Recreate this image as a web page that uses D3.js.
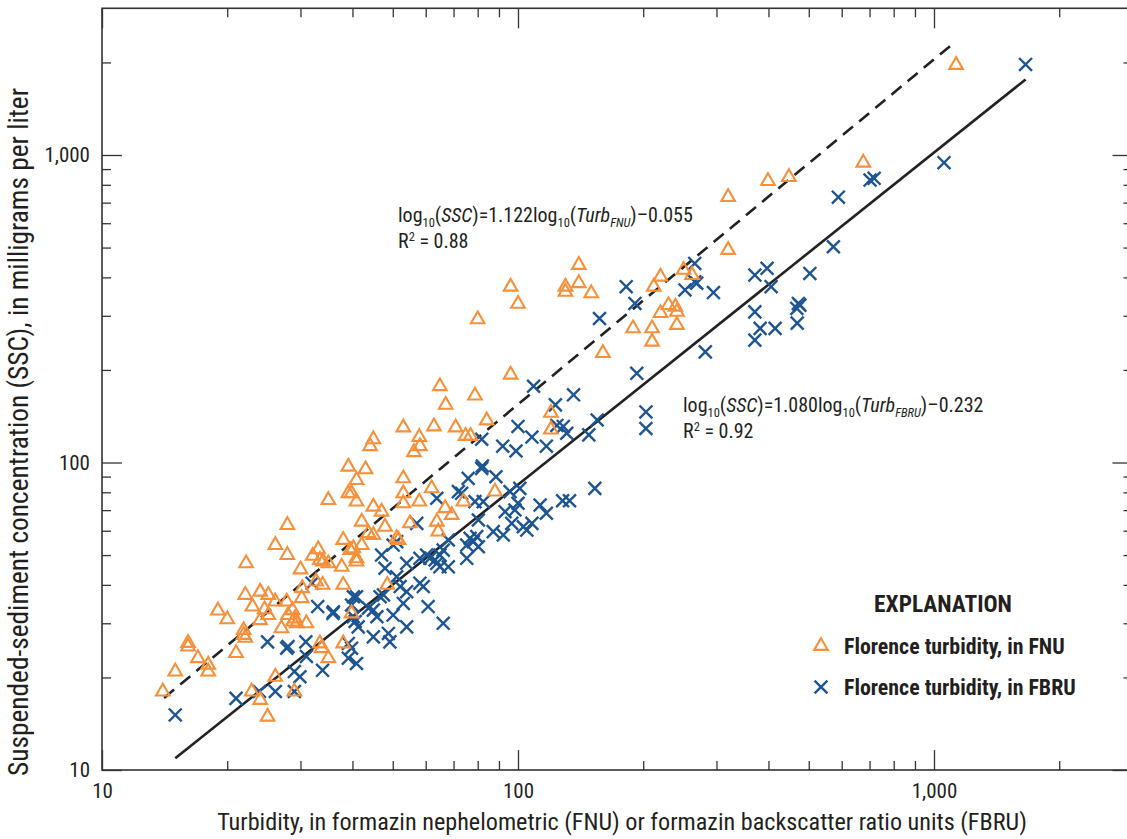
<!DOCTYPE html>
<html><head><meta charset="utf-8">
<script src="https://cdn.jsdelivr.net/npm/d3@7"></script>
<style>
body{margin:0;background:#fff}
svg{display:block}
text{font-family:"Liberation Sans Narrow","Arial Narrow","Roboto Condensed","Liberation Sans",sans-serif;fill:#231f20}
</style>
</head><body>
<svg id="chart" width="1127" height="839"></svg>
<script>
// ---- Data ----
const fnuTurb = [14.0,15.0,16.1,16.1,17.0,18.0,18.0,19.0,20.0,21.0,22.2,22.1,21.9,21.9,22.1,22.9,24.0,25.0,23.0,24.0,25.1,24.0,24.6,25.1,26.1,26.1,26.1,27.9,27.9,27.8,28.0,28.7,29.1,28.8,29.4,31.0,27.0,30.2,30.0,30.3,32.1,33.1,33.4,34.0,35.0,33.9,32.7,33.4,33.7,35.0,29.0,40.9,39.1,39.8,40.9,53.0,53.0,53.0,57.9,62.0,66.8,69.3,44.9,47.0,42.1,47.9,43.7,44.9,55.0,63.8,64.3,51.1,51.6,38.0,42.1,39.5,40.2,40.9,40.9,37.7,38.0,48.5,39.8,38.0,73.9,88.0,96,100,80,130,130,96,64.9,78.8,67.0,84.1,53.0,62.8,70.8,44.9,44.1,57.9,58.1,56.2,74.8,76.9,39.1,43.0,120,120,35.0,320,140,140,150,220,212,250,262,230,239,241,220,189,210,210,241,160,320,399,448,676,1130];
const fnuSSC = [18.0,20.9,25.9,25.2,23.1,22.0,20.9,33.0,30.9,24.0,47.0,37.1,28.5,27.5,26.9,18.0,16.9,14.9,34.0,38.0,37.1,30.7,33.3,31.9,53.9,35.3,20.1,62.6,50.0,35.3,31.9,33.1,31.1,30.4,30.0,30.0,28.9,36.2,44.9,39.0,49.7,52.2,48.2,47.6,47.0,40.0,41.0,25.8,24.9,23.1,18.0,87.7,79.4,79.4,74.6,88.8,79.4,73.7,74.6,82.4,71.0,67.5,71.8,69.2,64.2,61.8,58.9,58.1,63.4,64.2,59.6,56.7,56.0,56.0,53.9,51.9,52.6,48.8,47.6,45.8,40.0,40.0,32.3,25.8,74.6,80.4,373,328,292,373,359,193,177,165,154,137,130,131,130,119,113,121,113,108,122,122,96.9,95.0,145,128,75.5,491,439,383,355,402,373,423,407,325,321,309,306,273,273,247,280,227,730,823,848,944,1962];

const fbruTurb = [15.0,21.0,23.9,26.1,29.0,25.0,27.8,28.0,29.0,29.9,30.9,31.0,33.9,32.0,33.0,36.0,35.9,39.8,41.3,40.2,75.9,88.5,71.9,73.2,63.8,78.8,82.5,95.7,101,100,93.1,98.3,113,117,128,133,80.3,87.2,92.2,96.6,103,105,108,57.1,76.7,78.1,79.6,80.3,75.3,68.0,75.3,66.1,64.9,50.1,51.1,58.1,60.3,61.4,63.2,63.8,64.9,68.0,47.0,54.0,47.9,58.1,59.2,51.1,52.1,54.0,53.0,46.6,47.5,40.9,60.8,66.1,43.7,44.9,45.8,50.1,40.2,40.6,48.8,49.2,54.0,44.9,39.1,39.8,39.1,40.9,109,123,100,108,117,91.9,98.9,81.8,82.1,81.8,128.5,131,124,266,266,269,252,295,371,397,406,503,182,191,157,371,382,415,371,472,476,468,469,282,193,136,203,203,155,148,153,1660,1057,702,718,589,573];
const fbruSSC = [15.1,17.1,18.0,18.0,18.0,26.1,24.9,25.2,20.9,20.1,26.1,23.4,21.1,40.5,34.0,32.7,32.3,34.4,29.2,36.6,88.8,89.9,80.4,79.4,76.5,74.6,74.6,80.4,82.4,73.7,69.2,70.1,72.7,68.4,75.1,75.1,65.0,59.6,58.1,63.4,61.8,60.3,63.4,63.4,56.7,55.3,57.4,53.2,53.9,56.0,48.8,51.9,50.0,53.9,55.3,48.8,50.0,48.8,48.2,47.0,45.8,45.8,50.0,47.0,45.3,40.5,39.5,42.5,39.5,38.0,34.8,36.6,37.1,36.6,34.0,30.0,33.6,33.1,31.5,31.9,31.5,30.4,27.8,26.1,29.2,27.1,25.8,24.9,23.1,22.2,177,154,131,121,113,113,109,119,97.4,95.7,131,124.5,132,444,387,383,364,357,407,428,373,412,373,329,294,309,273,273,250,329,325,317,284,229,195,166,146,129,137.5,123,82.4,1970,944,829,840,729,503];

// regression fits (as printed on the figure) and their drawn extents
const fitNames = ["FNU","FBRU"];
const fitSlopes = [1.122, 1.080];
const fitIntercepts = [-0.055, -0.232];
const fitR2 = ["0.88","0.92"];
const fitFrom = [14.1, 15.0];
const fitTo = [1130, 1660];

const majorTicks = [10, 100, 1000];
const majorTickLabels = ["10", "100", "1,000"];
const minorTicks = [20,30,40,50,60,70,80,90,200,300,400,500,600,700,800,900,2000];

const legendLabels = ["Florence turbidity, in FNU", "Florence turbidity, in FBRU"];
const colors = {fnu:"#F7903A", fbru:"#1D5592", ink:"#231f20"};

(function(){
const svg = d3.select("#chart");
const pLeft = 102, pBottom = 770;
const decX = 416, decY = 307.5;
const x = d3.scaleLog().domain([10, 3000]).range([pLeft, pLeft + decX*Math.log10(300)]);
const y = d3.scaleLog().domain([10, 3000]).range([pBottom, pBottom - decY*Math.log10(300)]);
const pRight = x.range()[1], pTop = y.range()[1];

svg.append("rect").attr("x", pLeft).attr("y", pTop).attr("width", pRight-pLeft).attr("height", pBottom - pTop)
  .attr("fill","none").attr("stroke","#333").attr("stroke-width",1.6);

function styleAxis(g){
  g.select(".domain").remove();
  g.selectAll(".tick line").attr("stroke","#333").attr("stroke-width",1.3);
  g.selectAll(".tick text").attr("font-size",21).attr("fill",colors.ink);
}
function addAxis(axisFn, transform, values, labels, size, pad){
  const a = axisFn.tickValues(values).tickSize(size);
  a.tickFormat(labels ? (d,i)=>labels[i] : "");
  if (pad) a.tickPadding(pad);
  svg.append("g").attr("transform", transform).call(a).call(styleAxis);
}
addAxis(d3.axisBottom(x), `translate(0,${pBottom})`, majorTicks, majorTickLabels, -20, 13);
addAxis(d3.axisBottom(x), `translate(0,${pBottom})`, minorTicks, null, -9);
addAxis(d3.axisTop(x), `translate(0,${pTop})`, majorTicks, null, -20);
addAxis(d3.axisTop(x), `translate(0,${pTop})`, minorTicks, null, -9);
addAxis(d3.axisLeft(y), `translate(${pLeft},0)`, majorTicks, majorTickLabels, -20, 12);
addAxis(d3.axisLeft(y), `translate(${pLeft},0)`, minorTicks, null, -9);
addAxis(d3.axisRight(y), `translate(${pRight},0)`, majorTicks, null, -20);
addAxis(d3.axisRight(y), `translate(${pRight},0)`, minorTicks, null, -9);

function fitWidth(sel, w){
  const len = sel.node().getComputedTextLength();
  const fs = parseFloat(sel.attr("font-size"));
  sel.attr("font-size", fs * w / len);
}
const xt = svg.append("text").attr("x", 622).attr("y", 830).attr("text-anchor","middle").attr("font-size",21)
  .text("Turbidity, in formazin nephelometric (FNU) or formazin backscatter ratio units (FBRU)");
fitWidth(xt, 810);
const yt = svg.append("text").attr("transform","translate(28,432) rotate(-90)").attr("text-anchor","middle").attr("font-size",21)
  .text("Suspended-sediment concentration (SSC), in milligrams per liter");
fitWidth(yt, 688);

const line = d3.line().x(d=>x(d[0])).y(d=>y(d[1]));
fitNames.forEach((n,i)=>{
  const pts = [fitFrom[i], fitTo[i]].map(t=>[t, Math.pow(10, fitSlopes[i]*Math.log10(t) + fitIntercepts[i])]);
  svg.append("path").attr("d", line(pts)).attr("fill","none").attr("stroke","#222").attr("stroke-width",2.6)
    .attr("stroke-dasharray", i===0 ? "13,8" : null);
});

const tri = d3.symbol(d3.symbolTriangle, 80);
const times = d3.symbol(d3.symbolTimes, 110);
const fnuData = fnuTurb.map((t,i)=>[t, fnuSSC[i]]);
const fbruData = fbruTurb.map((t,i)=>[t, fbruSSC[i]]);
svg.append("g").selectAll("path").data(fbruData).join("path")
  .attr("d", times).attr("transform", d=>`translate(${x(d[0])},${y(d[1])})`)
  .attr("fill","none").attr("stroke",colors.fbru).attr("stroke-width",2.4);
svg.append("g").selectAll("path").data(fnuData).join("path")
  .attr("d", tri).attr("transform", d=>`translate(${x(d[0])},${y(d[1])})`)
  .attr("fill","none").attr("stroke",colors.fnu).attr("stroke-width",2.1);

function equation(x0, y0, slope, icpt, sub, r2, width){
  const t = svg.append("text").attr("x", x0).attr("y", y0).attr("font-size", 20);
  t.append("tspan").text("log");
  t.append("tspan").attr("font-size",12.5).attr("dy",5).text("10");
  t.append("tspan").attr("dy",-5).text("(");
  t.append("tspan").attr("font-style","italic").text("SSC");
  t.append("tspan").text(")=" + slope.toFixed(3) + "log");
  t.append("tspan").attr("font-size",12.5).attr("dy",5).text("10");
  t.append("tspan").attr("dy",-5).text("(");
  t.append("tspan").attr("font-style","italic").text("Turb");
  t.append("tspan").attr("font-style","italic").attr("font-size",12.5).attr("dy",5).text(sub);
  t.append("tspan").attr("dy",-5).text(")\u2013" + Math.abs(icpt).toFixed(3));
  const r = svg.append("text").attr("x", x0).attr("y", y0 + 26).attr("font-size", 20);
  r.append("tspan").text("R");
  r.append("tspan").attr("font-size",12.5).attr("dy",-7).text("2");
  r.append("tspan").attr("dy",7).text(" = " + r2);
}
equation(398, 222, fitSlopes[0], fitIntercepts[0], fitNames[0], fitR2[0]);
equation(683, 412, fitSlopes[1], fitIntercepts[1], fitNames[1], fitR2[1]);

const ex = svg.append("text").attr("x", 943).attr("y", 612).attr("text-anchor","middle").attr("font-size",23).attr("font-weight","bold").text("EXPLANATION");
fitWidth(ex, 138);
const lg = svg.append("g");
legendLabels.forEach((lab,i)=>{
  const yy = 646 + i*41;
  lg.append("path").attr("d", i===0 ? tri : times).attr("transform",`translate(821,${yy})`)
    .attr("fill","none").attr("stroke", i===0 ? colors.fnu : colors.fbru).attr("stroke-width", i===0 ? 2.1 : 2.4);
  const lt = lg.append("text").attr("x", 844).attr("y", yy + 8).attr("font-size",21).attr("font-weight","bold").text(lab);
  if (i === 0) fitWidth(lt, 221);
  else lt.attr("font-size", lg.select("text").attr("font-size"));
});
})();
</script>
</body></html>
